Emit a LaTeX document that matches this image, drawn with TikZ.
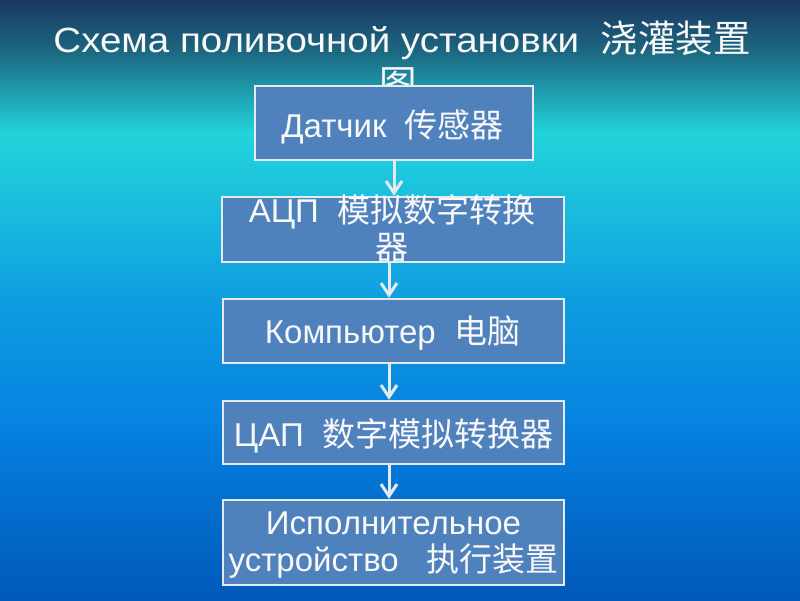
\documentclass[tikz,border=0pt]{standalone}
\usepackage{fontspec}
\setmainfont{Liberation Sans}
\newfontfamily\titlefont{Liberation Sans}[FakeStretch=1.1]
\newfontfamily\cjk{Noto Sans CJK SC}
\usetikzlibrary{arrows.meta}
\definecolor{bgA}{HTML}{1A3862}
\definecolor{bgB}{HTML}{1C6680}
\definecolor{bgC}{HTML}{22D4DC}
\definecolor{bgD}{HTML}{0E9EE0}
\definecolor{bgE}{HTML}{0680E0}
\definecolor{bgF}{HTML}{0058B8}
\definecolor{boxfill}{HTML}{4F81BD}
\definecolor{boxline}{HTML}{E4EAF0}
\definecolor{txt}{HTML}{F8F8F8}
\tikzset{
  stepbox/.style={draw=boxline, line width=2.5pt, fill=boxfill, rectangle, inner sep=0pt},
  boxtext/.style={text=txt, font=\fontsize{33}{37}\selectfont, align=center, inner sep=0pt, anchor=base},
  titletext/.style={text=txt, font=\fontsize{35}{45}\titlefont, inner sep=0pt, anchor=base},
  arr/.style={draw=boxline, line width=3pt, -{Straight Barb[length=12pt, width=16pt]}}
}
\newcommand{\tcjk}[1]{{\fontsize{37.5}{45}\cjk #1}}
\begin{document}
\begin{tikzpicture}[x=1pt, y=-1pt]
\useasboundingbox (0,0) rectangle (800,600);
% background
\shade[top color=bgA, bottom color=bgB] (0,-1) rectangle (800,50.5);
\shade[top color=bgB, bottom color=bgC] (0,50) rectangle (800,133.5);
\shade[top color=bgC, bottom color=bgD] (0,133) rectangle (800,300.5);
\shade[top color=bgD, bottom color=bgE] (0,300) rectangle (800,430.5);
\shade[top color=bgE, bottom color=bgF] (0,430) rectangle (800,601);
% title
\node[titletext] (t1) at (402,52) {Схема поливочной установки\ \ \tcjk{浇灌装置}};
\node[titletext] (t2) at (398,97) {\tcjk{图}};
% boxes
\node[stepbox, minimum width=278pt, minimum height=74pt] (b1) at (394,123) {};
\node[stepbox, minimum width=342pt, minimum height=65pt] (b2) at (393,229.5) {};
\node[stepbox, minimum width=341pt, minimum height=64pt] (b3) at (393.5,331) {};
\node[stepbox, minimum width=341pt, minimum height=63pt] (b4) at (393.5,432.5) {};
\node[stepbox, minimum width=341pt, minimum height=85pt] (b5) at (393.5,542.5) {};
% texts
\node[boxtext] (l1) at (392.5,137) {Датчик\ \ {\cjk 传感器}};
\node[boxtext] (l2) at (392,259) {АЦП\ \ {\cjk 模拟数字转换}\\{\cjk 器}};
\node[boxtext] (l3) at (392.5,343) {Компьютер\ \ {\cjk 电脑}};
\node[boxtext] (l4) at (393.5,446) {ЦАП\ \ {\cjk 数字模拟转换器}};
\node[boxtext] (l5) at (393.5,571) {Исполнительное\\устройство\ \ \ {\cjk 执行装置}};
% arrows
\coordinate (ax) at (389,0);
\draw[arr] (b1.south) -- (b2.north -| b1.south);
\draw[arr] (b2.south -| ax) -- (b3.north -| ax);
\draw[arr] (b3.south -| ax) -- (b4.north -| ax);
\draw[arr] (b4.south -| ax) -- (b5.north -| ax);
\end{tikzpicture}
\end{document}
